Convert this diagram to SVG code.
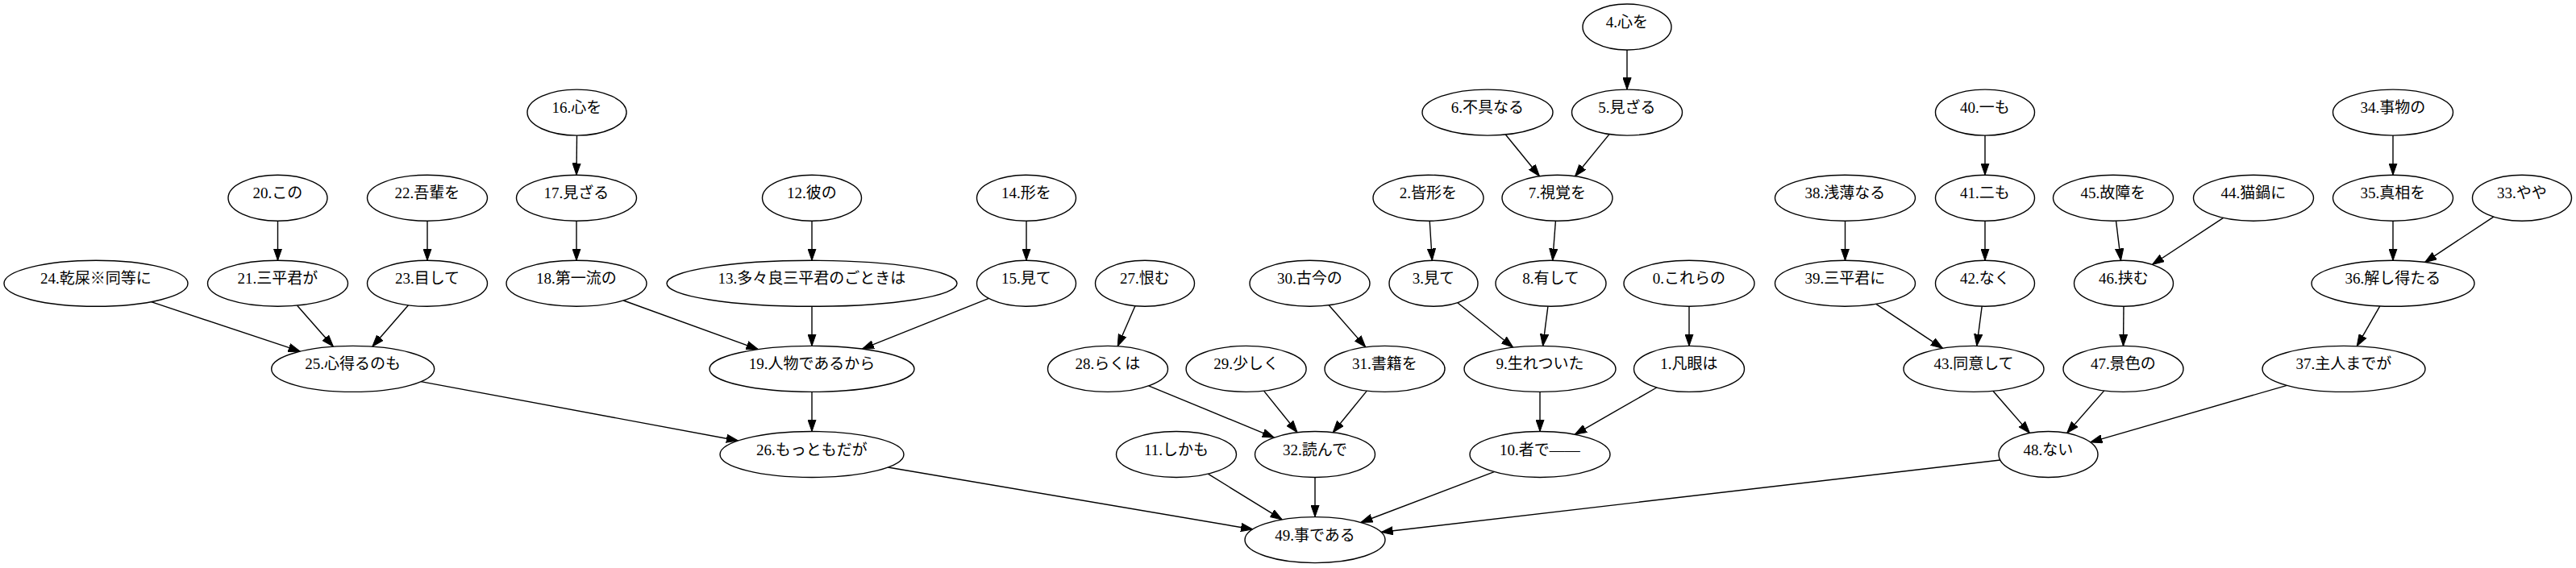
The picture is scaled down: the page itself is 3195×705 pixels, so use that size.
<svg xmlns="http://www.w3.org/2000/svg" width="3195" height="705" viewBox="0 0 3195 705">
<defs>
<style>
.n ellipse{fill:#fff;stroke:#000;stroke-width:1.4}
.n text{font-family:"Liberation Serif","Noto Sans CJK JP",serif;font-size:19px;text-anchor:middle;fill:#000}
.e line{stroke:#000;stroke-width:1.4;marker-end:url(#ah)}
</style>
<marker id="ah" markerUnits="userSpaceOnUse" viewBox="0 0 15 11" markerWidth="15" markerHeight="11" refX="14.7" refY="5.5" orient="auto">
<path d="M0,0.4 L14.7,5.5 L0,10.6 z" fill="#000" stroke="#000" stroke-width="1"/>
</marker>
</defs>
<rect width="3195" height="705" fill="#fff"/>
<g id="edges" class="e">
<line x1="2018" y1="62" x2="2018" y2="111.1"/>
<line x1="1996" y1="166.6" x2="1953.5" y2="218.7"/>
<line x1="1867.3" y1="167" x2="1909.5" y2="218.7"/>
<line x1="1929.4" y1="274.2" x2="1925.7" y2="323.3"/>
<line x1="1773.2" y1="274.2" x2="1776.3" y2="323.3"/>
<line x1="1807.8" y1="375.8" x2="1876.8" y2="431.2"/>
<line x1="1919.9" y1="380.3" x2="1913.6" y2="429.4"/>
<line x1="2095" y1="380.3" x2="2095" y2="429.4"/>
<line x1="1910" y1="486.4" x2="1910" y2="535.5"/>
<line x1="2054.8" y1="481" x2="1953.2" y2="539.3"/>
<line x1="1853.2" y1="585.6" x2="1687.8" y2="648.5"/>
<line x1="715.5" y1="168.1" x2="715" y2="217.2"/>
<line x1="715" y1="274.2" x2="715" y2="323.3"/>
<line x1="773.3" y1="373" x2="940.3" y2="433.6"/>
<line x1="1007" y1="274.2" x2="1007" y2="323.3"/>
<line x1="1007" y1="380.3" x2="1007" y2="429.4"/>
<line x1="1273" y1="274.2" x2="1273" y2="323.3"/>
<line x1="1226.4" y1="370.4" x2="1069.3" y2="433.1"/>
<line x1="1007" y1="486.4" x2="1007" y2="535.5"/>
<line x1="344.5" y1="274.2" x2="344.5" y2="323.3"/>
<line x1="530" y1="274.2" x2="530" y2="323.3"/>
<line x1="368.6" y1="379.2" x2="413.4" y2="430.2"/>
<line x1="506.5" y1="378.8" x2="461.8" y2="430.2"/>
<line x1="187.5" y1="374.6" x2="372.4" y2="436.2"/>
<line x1="522" y1="473.6" x2="915.6" y2="547"/>
<line x1="1101.3" y1="580" x2="1553.8" y2="657"/>
<line x1="1407.9" y1="379.7" x2="1386.2" y2="429.8"/>
<line x1="1424.6" y1="478.8" x2="1580.4" y2="543.1"/>
<line x1="1567.5" y1="485.1" x2="1609.1" y2="536.8"/>
<line x1="1648.2" y1="378.8" x2="1693.8" y2="430.9"/>
<line x1="1695.3" y1="485.1" x2="1653.2" y2="536.8"/>
<line x1="1631" y1="592.5" x2="1631" y2="641.6"/>
<line x1="1498.3" y1="588.2" x2="1590.2" y2="644.9"/>
<line x1="2462" y1="168.1" x2="2462" y2="217.2"/>
<line x1="2462" y1="274.2" x2="2462" y2="323.3"/>
<line x1="2458.2" y1="380.2" x2="2451.8" y2="429.4"/>
<line x1="2288.5" y1="274.2" x2="2288.5" y2="323.3"/>
<line x1="2326.9" y1="377.4" x2="2409.6" y2="432.3"/>
<line x1="2624.5" y1="274.2" x2="2630.5" y2="323.3"/>
<line x1="2757.6" y1="270.3" x2="2669.4" y2="328.5"/>
<line x1="2634" y1="380.3" x2="2633.5" y2="429.4"/>
<line x1="2471.9" y1="485.3" x2="2517.5" y2="537.6"/>
<line x1="2609.8" y1="484.9" x2="2563.6" y2="537.6"/>
<line x1="2968" y1="168.1" x2="2968" y2="217.2"/>
<line x1="2968" y1="274.2" x2="2968" y2="323.3"/>
<line x1="3092.8" y1="269.1" x2="3007.5" y2="325.6"/>
<line x1="2951.8" y1="379.9" x2="2923.2" y2="429.8"/>
<line x1="2836.5" y1="478.3" x2="2592.7" y2="548.9"/>
<line x1="2480.9" y1="571" x2="1713" y2="660.5"/>
</g>
<g id="n0" class="n"><ellipse cx="2095" cy="351.8" rx="81" ry="28.5"/><text x="2095" y="352.3">0.これらの</text></g>
<g id="n1" class="n"><ellipse cx="2095" cy="457.9" rx="68.5" ry="28.5"/><text x="2095" y="458.4">1.凡眼は</text></g>
<g id="n2" class="n"><ellipse cx="1771.5" cy="245.7" rx="68.5" ry="28.5"/><text x="1771.5" y="246.2">2.皆形を</text></g>
<g id="n3" class="n"><ellipse cx="1778" cy="351.8" rx="55" ry="28.5"/><text x="1778" y="352.3">3.見て</text></g>
<g id="n4" class="n"><ellipse cx="2018" cy="33.5" rx="55" ry="28.5"/><text x="2018" y="34">4.心を</text></g>
<g id="n5" class="n"><ellipse cx="2018" cy="139.6" rx="68.5" ry="28.5"/><text x="2018" y="140.1">5.見ざる</text></g>
<g id="n6" class="n"><ellipse cx="1845" cy="139.6" rx="81" ry="28.5"/><text x="1845" y="140.1">6.不具なる</text></g>
<g id="n7" class="n"><ellipse cx="1931.5" cy="245.7" rx="68.5" ry="28.5"/><text x="1931.5" y="246.2">7.視覚を</text></g>
<g id="n8" class="n"><ellipse cx="1923.5" cy="351.8" rx="68.5" ry="28.5"/><text x="1923.5" y="352.3">8.有して</text></g>
<g id="n9" class="n"><ellipse cx="1910" cy="457.9" rx="94" ry="28.5"/><text x="1910" y="458.4">9.生れついた</text></g>
<g id="n10" class="n"><ellipse cx="1910" cy="564" rx="87" ry="28.5"/><text x="1910" y="564.5">10.者で――</text></g>
<g id="n11" class="n"><ellipse cx="1459" cy="564" rx="74.5" ry="28.5"/><text x="1459" y="564.5">11.しかも</text></g>
<g id="n12" class="n"><ellipse cx="1007" cy="245.7" rx="61.5" ry="28.5"/><text x="1007" y="246.2">12.彼の</text></g>
<g id="n13" class="n"><ellipse cx="1007" cy="351.8" rx="180" ry="28.5"/><text x="1007" y="352.3">13.多々良三平君のごときは</text></g>
<g id="n14" class="n"><ellipse cx="1273" cy="245.7" rx="61.5" ry="28.5"/><text x="1273" y="246.2">14.形を</text></g>
<g id="n15" class="n"><ellipse cx="1273" cy="351.8" rx="61.5" ry="28.5"/><text x="1273" y="352.3">15.見て</text></g>
<g id="n16" class="n"><ellipse cx="715.5" cy="139.6" rx="61.5" ry="28.5"/><text x="715.5" y="140.1">16.心を</text></g>
<g id="n17" class="n"><ellipse cx="715" cy="245.7" rx="74.5" ry="28.5"/><text x="715" y="246.2">17.見ざる</text></g>
<g id="n18" class="n"><ellipse cx="715" cy="351.8" rx="87" ry="28.5"/><text x="715" y="352.3">18.第一流の</text></g>
<g id="n19" class="n"><ellipse cx="1007" cy="457.9" rx="127" ry="28.5"/><text x="1007" y="458.4">19.人物であるから</text></g>
<g id="n20" class="n"><ellipse cx="344.5" cy="245.7" rx="61.5" ry="28.5"/><text x="344.5" y="246.2">20.この</text></g>
<g id="n21" class="n"><ellipse cx="344.5" cy="351.8" rx="87" ry="28.5"/><text x="344.5" y="352.3">21.三平君が</text></g>
<g id="n22" class="n"><ellipse cx="530" cy="245.7" rx="74.5" ry="28.5"/><text x="530" y="246.2">22.吾輩を</text></g>
<g id="n23" class="n"><ellipse cx="530" cy="351.8" rx="74.5" ry="28.5"/><text x="530" y="352.3">23.目して</text></g>
<g id="n24" class="n"><ellipse cx="119" cy="351.8" rx="114" ry="28.5"/><text x="119" y="352.3">24.乾屎※同等に</text></g>
<g id="n25" class="n"><ellipse cx="437.7" cy="457.9" rx="101" ry="28.5"/><text x="437.7" y="458.4">25.心得るのも</text></g>
<g id="n26" class="n"><ellipse cx="1007" cy="564" rx="114" ry="28.5"/><text x="1007" y="564.5">26.もっともだが</text></g>
<g id="n27" class="n"><ellipse cx="1420" cy="351.8" rx="61.5" ry="28.5"/><text x="1420" y="352.3">27.恨む</text></g>
<g id="n28" class="n"><ellipse cx="1374" cy="457.9" rx="74.5" ry="28.5"/><text x="1374" y="458.4">28.らくは</text></g>
<g id="n29" class="n"><ellipse cx="1545.6" cy="457.9" rx="74.5" ry="28.5"/><text x="1545.6" y="458.4">29.少しく</text></g>
<g id="n30" class="n"><ellipse cx="1624.5" cy="351.8" rx="74.5" ry="28.5"/><text x="1624.5" y="352.3">30.古今の</text></g>
<g id="n31" class="n"><ellipse cx="1717.5" cy="457.9" rx="74.5" ry="28.5"/><text x="1717.5" y="458.4">31.書籍を</text></g>
<g id="n32" class="n"><ellipse cx="1631" cy="564" rx="74.5" ry="28.5"/><text x="1631" y="564.5">32.読んで</text></g>
<g id="n33" class="n"><ellipse cx="3128" cy="245.7" rx="61.5" ry="28.5"/><text x="3128" y="246.2">33.やや</text></g>
<g id="n34" class="n"><ellipse cx="2968" cy="139.6" rx="74.5" ry="28.5"/><text x="2968" y="140.1">34.事物の</text></g>
<g id="n35" class="n"><ellipse cx="2968" cy="245.7" rx="74.5" ry="28.5"/><text x="2968" y="246.2">35.真相を</text></g>
<g id="n36" class="n"><ellipse cx="2968" cy="351.8" rx="101" ry="28.5"/><text x="2968" y="352.3">36.解し得たる</text></g>
<g id="n37" class="n"><ellipse cx="2907" cy="457.9" rx="101" ry="28.5"/><text x="2907" y="458.4">37.主人までが</text></g>
<g id="n38" class="n"><ellipse cx="2288.5" cy="245.7" rx="87" ry="28.5"/><text x="2288.5" y="246.2">38.浅薄なる</text></g>
<g id="n39" class="n"><ellipse cx="2288.5" cy="351.8" rx="87" ry="28.5"/><text x="2288.5" y="352.3">39.三平君に</text></g>
<g id="n40" class="n"><ellipse cx="2462" cy="139.6" rx="61.5" ry="28.5"/><text x="2462" y="140.1">40.一も</text></g>
<g id="n41" class="n"><ellipse cx="2462" cy="245.7" rx="61.5" ry="28.5"/><text x="2462" y="246.2">41.二も</text></g>
<g id="n42" class="n"><ellipse cx="2462" cy="351.8" rx="61.5" ry="28.5"/><text x="2462" y="352.3">42.なく</text></g>
<g id="n43" class="n"><ellipse cx="2448" cy="457.9" rx="87" ry="28.5"/><text x="2448" y="458.4">43.同意して</text></g>
<g id="n44" class="n"><ellipse cx="2795" cy="245.7" rx="74.5" ry="28.5"/><text x="2795" y="246.2">44.猫鍋に</text></g>
<g id="n45" class="n"><ellipse cx="2621" cy="245.7" rx="74.5" ry="28.5"/><text x="2621" y="246.2">45.故障を</text></g>
<g id="n46" class="n"><ellipse cx="2634" cy="351.8" rx="61.5" ry="28.5"/><text x="2634" y="352.3">46.挟む</text></g>
<g id="n47" class="n"><ellipse cx="2633.5" cy="457.9" rx="74.5" ry="28.5"/><text x="2633.5" y="458.4">47.景色の</text></g>
<g id="n48" class="n"><ellipse cx="2540.5" cy="564" rx="61.5" ry="28.5"/><text x="2540.5" y="564.5">48.ない</text></g>
<g id="n49" class="n"><ellipse cx="1631" cy="670.1" rx="87" ry="28.5"/><text x="1631" y="670.6">49.事である</text></g>
</svg>
